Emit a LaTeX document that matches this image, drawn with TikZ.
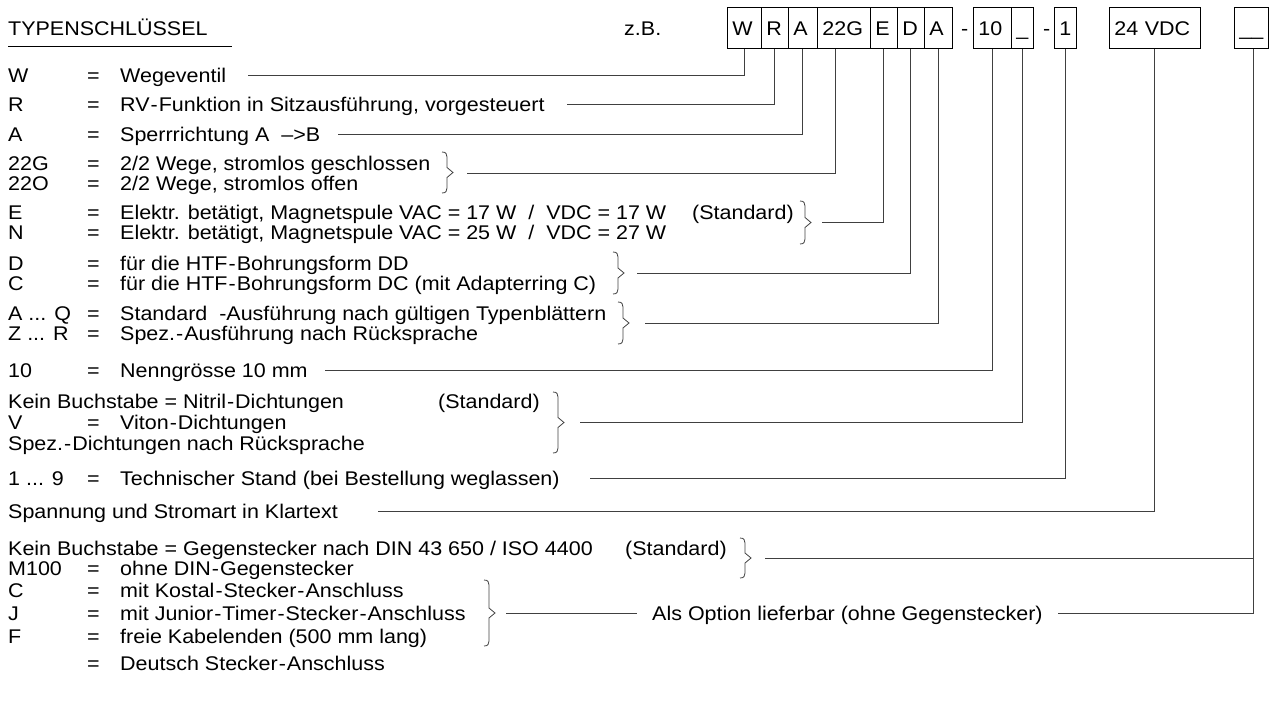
\documentclass[tikz,border=0pt]{standalone}
\usepackage{fontspec}
\setmainfont[FakeStretch=1.085]{Liberation Sans}
\usetikzlibrary{calc}
\newcommand\krow[4]{%
  \node[tx] (c#1) at (8,#2) {#3};
  \node[tx] (q#1) at (87,#2) {=};
  \node[tx] (t#1) at (120,#2) {#4};}
\newcommand\rbr[4]{%
  \pgfmathsetmacro\brmid{(#2+#3)/2}%
  \draw[br] (#1-5,#2) .. controls (#1-1,#2) and (#1,#2+2) .. (#1,#2+5)
    -- (#1,\brmid-5) -- (#1+6,\brmid) -- (#1,\brmid+5) -- (#1,#3-5)
    .. controls (#1,#3-2) and (#1-1,#3) .. (#1-5,#3);
  \coordinate (#4) at (#1+6,\brmid);}
\begin{document}
\begin{tikzpicture}[x=1pt,y=-1pt,
  every node/.style={inner sep=0pt,font=\fontsize{19.8}{22}\selectfont},
  tx/.style={anchor=base west},
  cbox/.style={draw=black,line width=0.8pt,anchor=north west,minimum height=41pt,
    text height=14.5pt,text depth=0pt,inner xsep=5pt,align=left},
  ln/.style={draw=black!75,line width=0.9pt},
  br/.style={draw=black!75,line width=0.8pt}]
\useasboundingbox (0,0) rectangle (1271,716);

% title
\node[tx] (title) at (8,35) {TYPENSCHLÜSSEL};
\draw[black,line width=0.8pt] (8,46) -- (232,46);
\node[tx] (zb) at (624,35) {z.B.};

% code boxes
\node[cbox,text width=24pt] (bW)  at (727,7)  {W};
\node[cbox,text width=17pt] (bR)  at (761,7)  {R};
\node[cbox,text width=19pt] (bA)  at (788,7)  {A};
\node[cbox,text width=43pt] (bG)  at (817,7)  {22G};
\node[cbox,text width=17pt] (bE)  at (870,7)  {E};
\node[cbox,text width=17pt] (bD)  at (897,7)  {D};
\node[cbox,text width=18pt] (bA2) at (924,7)  {A};
\node[tx] (dash1) at (961,35) {-};
\node[cbox,text width=28pt] (b10) at (973,7)  {10};
\node[cbox,text width=12pt] (bU)  at (1011,7) {\_};
\node[tx] (dash2) at (1043,35) {-};
\node[cbox,text width=12pt] (b1)  at (1054,7) {1};
\node[cbox,text width=81pt] (bV)  at (1109,7) {24 VDC};
\node[cbox,text width=24pt] (bB)  at (1234,7) {\_\_};

% rows
\krow{W}{82}{W}{Wegeventil}
\krow{R}{111}{R}{RV\kern1pt-\kern1pt Funktion in Sitzausführung, vorgesteuert}
\krow{A}{141}{A}{Sperrrichtung A \ –>B}
\krow{G}{170}{22G}{2/2 Wege, stromlos geschlossen}
\krow{O}{190}{22O}{2/2 Wege, stromlos offen}
\krow{E}{219}{E}{Elektr. betätigt, Magnetspule VAC = 17 W \ / \ VDC = 17 W}
\node[tx] (stdE) at (692,219) {(Standard)};
\krow{N}{239}{N}{Elektr. betätigt, Magnetspule VAC = 25 W \ / \ VDC = 27 W}
\krow{D}{270}{D}{für die HTF\kern1pt-\kern1pt Bohrungsform DD}
\krow{C}{290}{C}{für die HTF\kern1pt-\kern1pt Bohrungsform DC (mit Adapterring C)}
\krow{AQ}{320}{A ... Q}{Standard \ -Ausführung nach gültigen Typenblättern}
\krow{ZR}{340}{Z ... R}{Spez.\kern1pt-\kern1pt Ausführung nach Rücksprache}
\krow{T}{377}{10}{Nenngrösse 10 mm}
\node[tx] (kein1) at (8,408) {Kein Buchstabe = Nitril\kern1pt-\kern1pt Dichtungen};
\node[tx] (stdK) at (438,408) {(Standard)};
\krow{V}{429}{V}{Viton\kern1pt-\kern1pt Dichtungen}
\node[tx] (spez) at (8,450) {Spez.\kern1pt-\kern1pt Dichtungen nach Rücksprache};
\krow{S}{485}{1 ... 9}{Technischer Stand (bei Bestellung weglassen)}
\node[tx] (spann) at (8,518) {Spannung und Stromart in Klartext};
\node[tx] (kein2) at (8,555) {Kein Buchstabe = Gegenstecker nach DIN 43 650 / ISO 4400};
\node[tx] (stdG) at (625,555) {(Standard)};
\krow{M}{575}{M100}{ohne DIN\kern1pt-\kern1pt Gegenstecker}
\krow{CC}{597}{C}{mit Kostal\kern1pt-\kern1pt Stecker\kern1pt-\kern1pt Anschluss}
\krow{J}{620}{J}{mit Junior\kern1pt-\kern1pt Timer\kern1pt-\kern1pt Stecker\kern1pt-\kern1pt Anschluss}
\krow{F}{643}{F}{freie Kabelenden (500 mm lang)}
\node[tx] (qDe) at (87,670) {=};
\node[tx] (tDe) at (120,670) {Deutsch Stecker\kern1pt-\kern1pt Anschluss};
\node[tx] (opt) at (652,620) {Als Option lieferbar (ohne Gegenstecker)};

% braces
\rbr{447}{152}{193}{brG}
\rbr{805}{201}{244}{brE}
\rbr{618}{252}{294}{brD}
\rbr{623}{302}{344}{brA}
\rbr{558}{392}{453}{brK}
\rbr{745}{538}{578}{brS}
\rbr{489}{580}{646}{brO}

% drop points
\coordinate (pG) at ($(bG.south west)+(18,0)$);
\coordinate (pB) at ($(bB.south west)+(19,0)$);

% line starts
\coordinate (sW) at (248,75);
\coordinate (sR) at (567,104);
\coordinate (sA) at (338,134);
\coordinate (sG) at (467,173);
\coordinate (sE) at (822,222);
\coordinate (sD) at (637,273);
\coordinate (sAZ) at (645,323);
\coordinate (sT) at (325,370);
\coordinate (sK) at (580,422);
\coordinate (sS) at (590,478);
\coordinate (sSp) at (378,511);
\coordinate (sGe) at (765,558);
\coordinate (sO1) at (506,613);
\coordinate (eO1) at (637,613);
\coordinate (sO2) at (1058,613);

% connectors
\draw[ln] (sW) -| (bW.south);
\draw[ln] (sR) -| (bR.south);
\draw[ln] (sA) -| (bA.south);
\draw[ln] (sG) -| (pG);
\draw[ln] (sE) -| (bE.south);
\draw[ln] (sD) -| (bD.south);
\draw[ln] (sAZ) -| (bA2.south);
\draw[ln] (sT) -| (b10.south);
\draw[ln] (sK) -| (bU.south);
\draw[ln] (sS) -| (b1.south);
\draw[ln] (sSp) -| (bV.south);
\draw[ln] (sO2) -| (pB);
\draw[ln] (sGe) -- (sGe -| pB);
\draw[ln] (sO1) -- (eO1);
\end{tikzpicture}
\end{document}
